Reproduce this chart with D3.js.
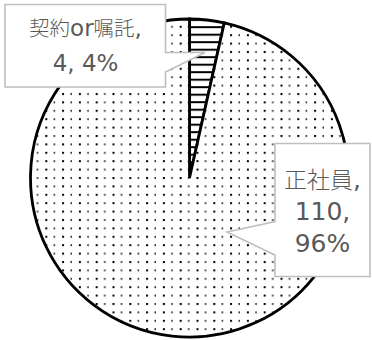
<!DOCTYPE html>
<html>
<head>
<meta charset="utf-8">
<script src="https://cdn.jsdelivr.net/npm/d3@7"></script>
<style>
  html, body { margin: 0; padding: 0; background: #ffffff; }
  svg { display: block; }
</style>
</head>
<body>
<svg id="chart" width="372" height="340"></svg>
<script>
// Employment type breakdown (pie starts at 12 o'clock, clockwise)
const categories = ["契約or嘱託", "正社員"];
const counts = [4, 110];

const svg = d3.select("#chart");
const cx = 189.5, cy = 178, R = 159;

const defs = svg.append("defs");

// Dotted fill for the large slice
const dots = defs.append("pattern")
  .attr("id", "dots")
  .attr("patternUnits", "userSpaceOnUse")
  .attr("x", 7).attr("y", -1)
  .attr("width", 16.8).attr("height", 8.4);
dots.append("rect").attr("width", 16.8).attr("height", 8.4).attr("fill", "#fff");
dots.append("rect").attr("x", 0).attr("y", 0).attr("width", 2).attr("height", 2).attr("fill", "#000");
dots.append("rect").attr("x", 8.4).attr("y", 0).attr("width", 1.4).attr("height", 2).attr("fill", "#222");

// Horizontal stripes for the small slice
const stripes = defs.append("pattern")
  .attr("id", "stripes")
  .attr("patternUnits", "userSpaceOnUse")
  .attr("x", 0).attr("y", 5.7)
  .attr("width", 10).attr("height", 7.5);
stripes.append("rect").attr("width", 10).attr("height", 7.5).attr("fill", "#fff");
stripes.append("rect").attr("x", 0).attr("y", 0).attr("width", 10).attr("height", 2).attr("fill", "#000");

const fills = {"契約or嘱託": "url(#stripes)", "正社員": "url(#dots)"};

const data = categories.map((c, i) => ({cat: c, value: counts[i]}));
const total = d3.sum(counts);

const pie = d3.pie().sort(null).value(d => d.value);
const arc = d3.arc().innerRadius(0).outerRadius(R);

const g = svg.append("g").attr("transform", `translate(${cx},${cy})`);
g.selectAll("path.slice")
  .data(pie(data))
  .join("path")
  .attr("class", "slice")
  .attr("d", arc)
  .attr("fill", d => fills[d.data.cat])
  .attr("stroke", "#000")
  .attr("stroke-width", 2.8)
  .attr("stroke-linejoin", "miter");

// Callout labels: box + pointer, text lines
const callouts = [
  { cat: "契約or嘱託", x0: 5, y0: 4.5, x1: 165.5, y1: 87,
    side: "right", pA: 52.5, pB: 72, tip: [205, 52.5],
    tx: 85.5, latin: 23, cjk: 20.5, baselines: [35.8, 70.8], split: 2 },
  { cat: "正社員", x0: 275, y0: 143.5, x1: 370, y1: 276.5,
    side: "left", pA: 221.5, pB: 255, tip: [227, 232],
    tx: 322.5, latin: 25, cjk: 23, baselines: [188, 220, 251.5], split: 3 }
];

function calloutPath(c) {
  const p = d3.path();
  p.moveTo(c.x0, c.y0);
  p.lineTo(c.x1, c.y0);
  if (c.side === "right") {
    p.lineTo(c.x1, c.pA);
    p.lineTo(c.tip[0], c.tip[1]);
    p.lineTo(c.x1, c.pB);
  }
  p.lineTo(c.x1, c.y1);
  p.lineTo(c.x0, c.y1);
  if (c.side === "left") {
    p.lineTo(c.x0, c.pB);
    p.lineTo(c.tip[0], c.tip[1]);
    p.lineTo(c.x0, c.pA);
  }
  p.closePath();
  return p.toString();
}

const isCJK = ch => /[\u3000-\u9fff\uff00-\uffef]/.test(ch);
function runs(str) {
  const out = [];
  for (const ch of str) {
    const k = isCJK(ch);
    if (out.length && out[out.length - 1].cjk === k) out[out.length - 1].t += ch;
    else out.push({t: ch, cjk: k});
  }
  return out;
}

callouts.forEach(c => {
  const d = data.find(e => e.cat === c.cat);
  const pct = Math.round(d.value / total * 100);
  const lines = c.split === 2
    ? [`${d.cat},`, `${d.value}, ${pct}%`]
    : [`${d.cat},`, `${d.value},`, `${pct}%`];

  svg.append("path")
    .attr("d", calloutPath(c))
    .attr("fill", "#fff")
    .attr("stroke", "#bfbfbf")
    .attr("stroke-width", 1.6)
    .attr("stroke-linejoin", "miter");

  lines.forEach((ln, i) => {
    const t = svg.append("text")
      .attr("x", c.tx)
      .attr("y", c.baselines[i])
      .attr("text-anchor", "middle")
      .attr("fill", "#595959");
    runs(ln).forEach(r => {
      t.append("tspan")
        .attr("font-family", r.cjk ? "'Noto Sans CJK JP'" : "'DejaVu Sans ExtraLight', 'DejaVu Sans', 'Noto Sans CJK JP'")
        .attr("font-weight", r.cjk ? 300 : 400)
        .attr("font-size", r.cjk ? c.cjk : c.latin)
        .text(r.t);
    });
  });
});
</script>
</body>
</html>
